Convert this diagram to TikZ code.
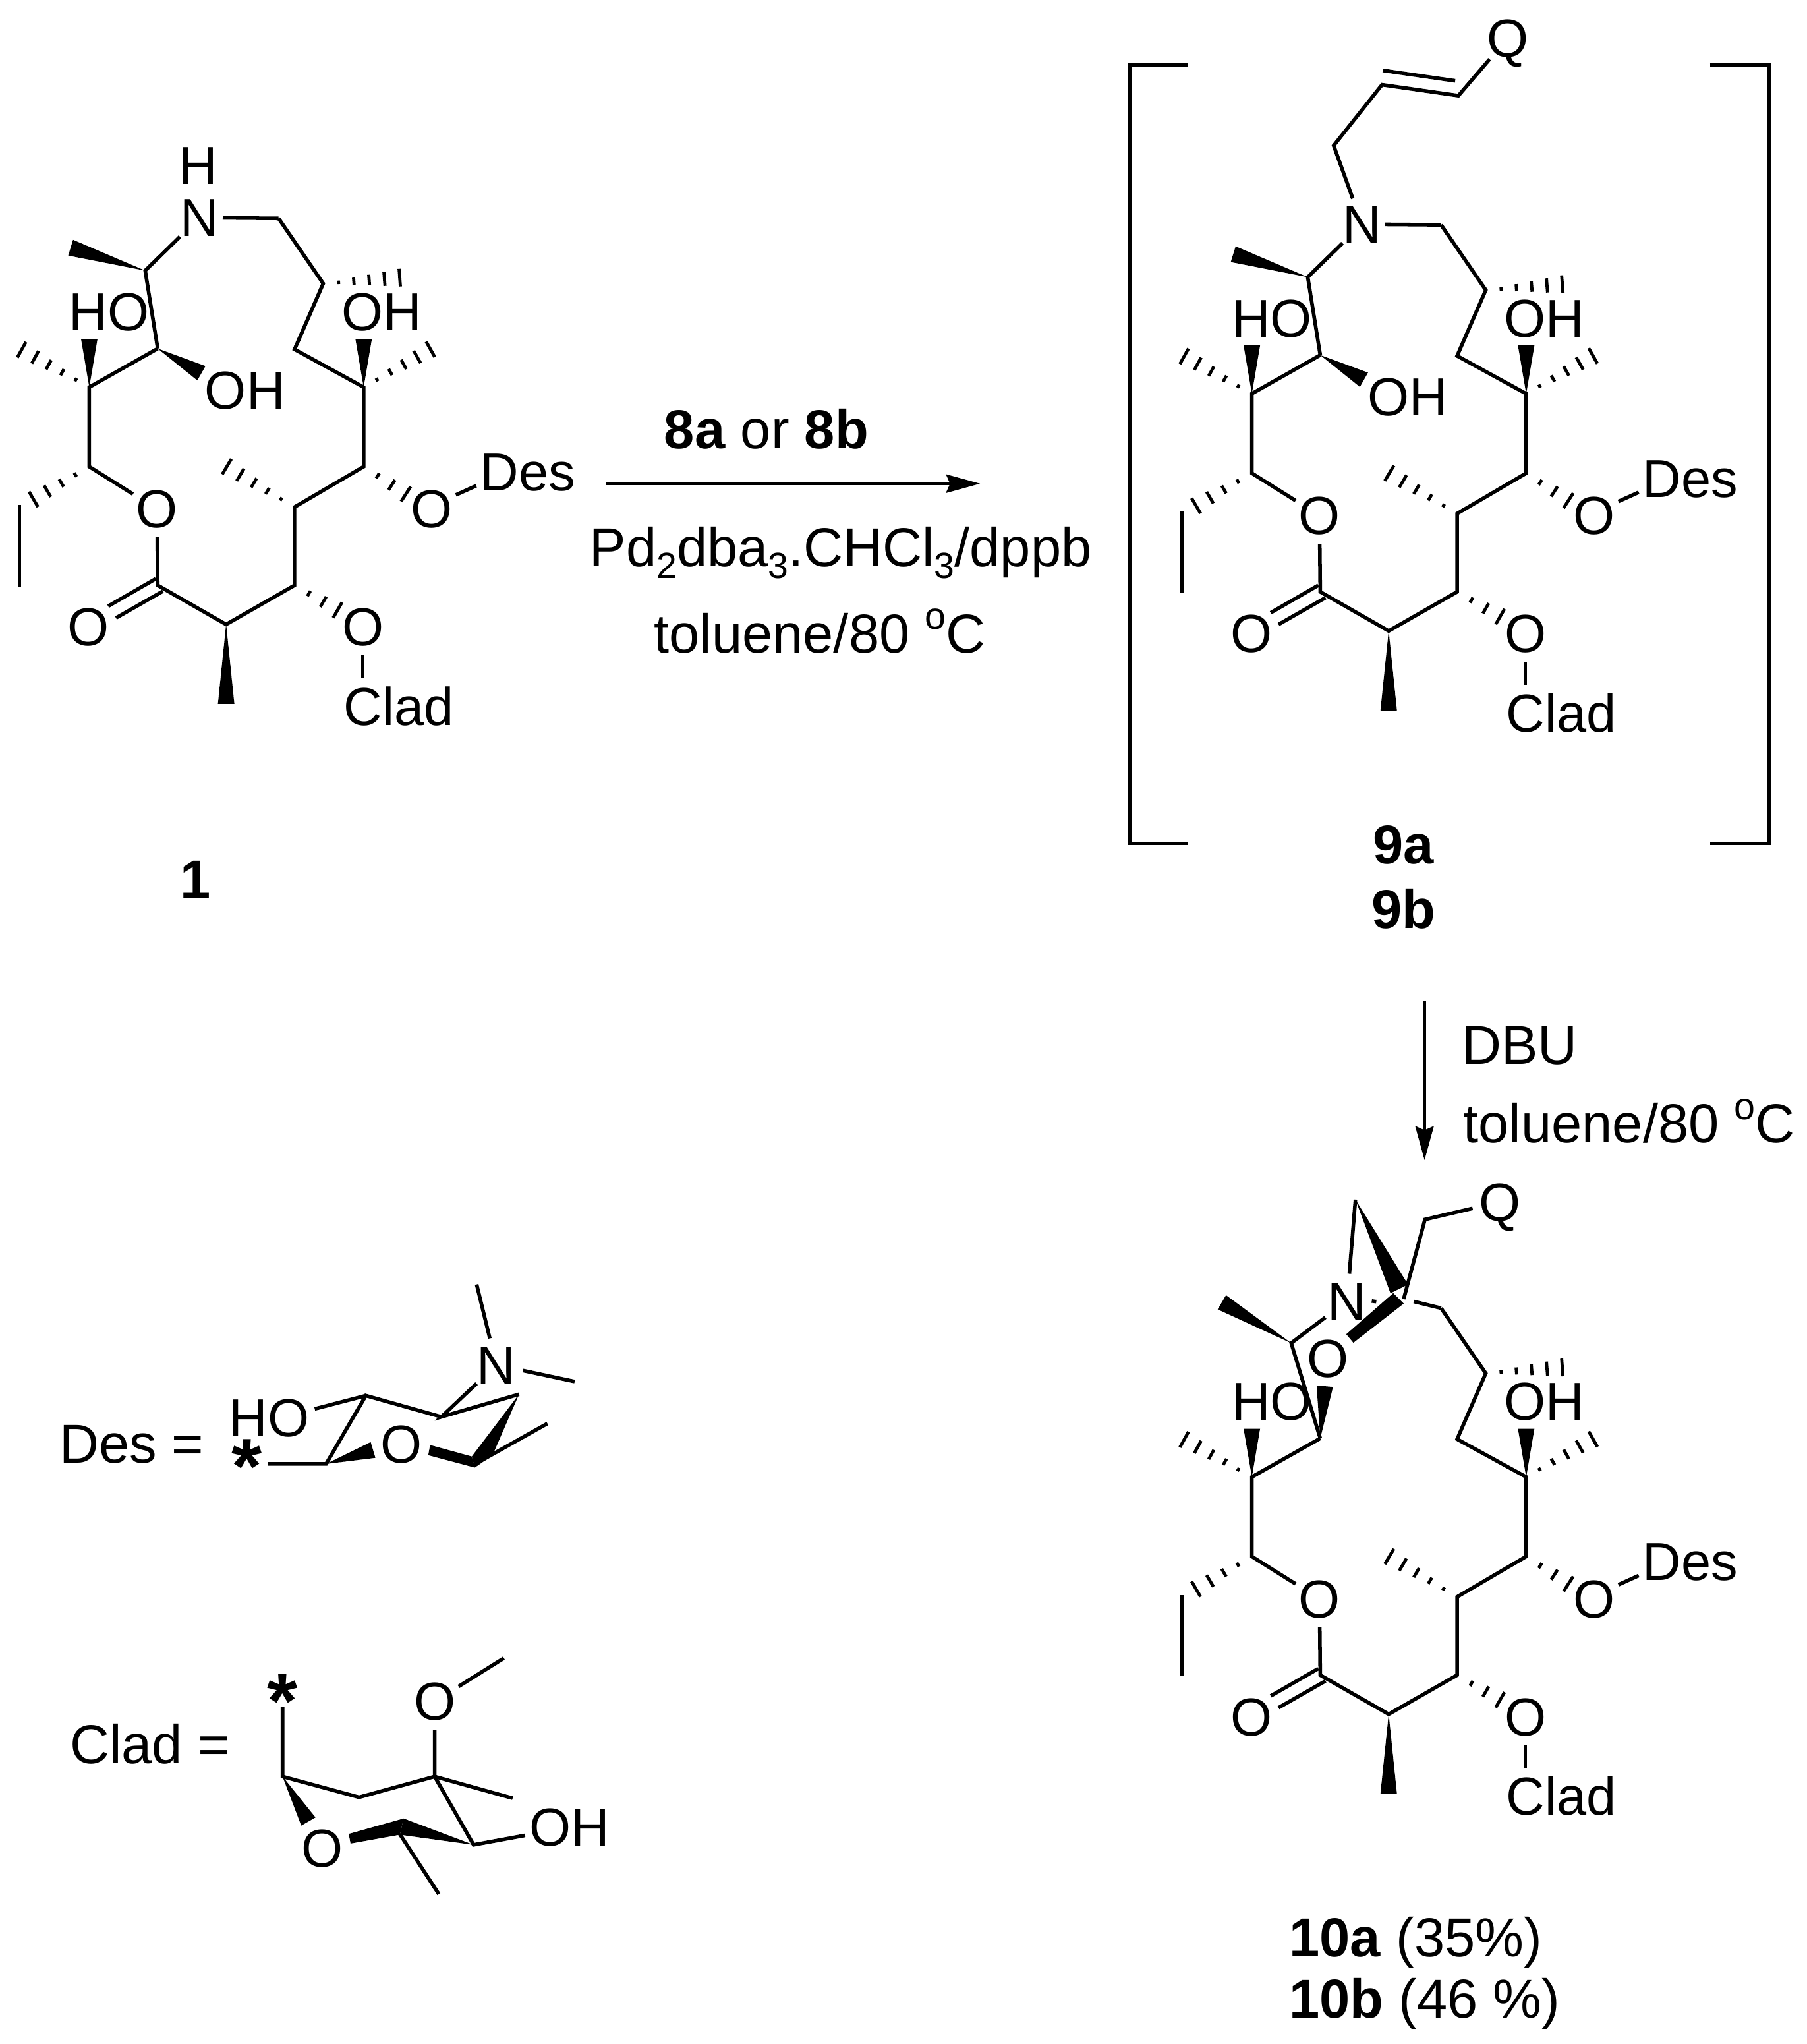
\documentclass[tikz,border=0pt]{standalone}
\usepackage{fontspec}
\setmainfont{Liberation Sans}
\usetikzlibrary{calc,arrows.meta}

\newcommand{\atomfont}{\fontsize{41}{46}\selectfont}
\newcommand{\capfont}{\fontsize{42}{47}\selectfont}
\newcommand{\subdigit}[1]{\raisebox{-9pt}{\fontsize{28}{30}\selectfont #1}}
\newcommand{\degsign}{\raisebox{18pt}{\fontsize{29}{30}\selectfont o}}

\tikzset{
    bond/.style={line width=2.8pt,line join=miter},
    hash/.style={line width=2.4pt},
    atom/.style={circle,inner sep=0pt,font=\atomfont,text height=29pt,text depth=0pt},
    label/.style={inner sep=3pt,font=\atomfont,text height=29pt,text depth=0pt},
    caption/.style={inner sep=0pt,font=\capfont},
    starmark/.style={inner sep=0pt,font=\fontsize{60}{60}\selectfont\bfseries},
    react/.style={line width=2.5pt,-{Stealth[length=26pt,width=14pt,inset=3pt]}},
}

% count, from, to
\newcommand{\hashbond}[3]{
    \foreach \k in {1,...,#1}{
        \pgfmathsetmacro{\hashpos}{\k/#1}
        \pgfmathsetmacro{\hashw}{6.8*\hashpos}
        \draw[hash] ($(#2)!\hashpos!(#3)!\hashw pt!90:(#2)$) -- ($(#2)!\hashpos!(#3)!\hashw pt!-90:(#2)$);
    }
}
% half width, tip, wide end
\newcommand{\wedgebond}[3][6.3]{
    \fill (#2) -- ($(#3)!#1pt!90:(#2)$) -- ($(#3)!#1pt!-90:(#2)$) -- cycle;
}

% ring shared by the three compounds
\newcommand{\macrolide}{
    \coordinate (c1) at (121,267.4);
    \coordinate (c2) at (68.5,297);
    \coordinate (c3) at (68.5,358);
    \coordinate (c4) at (121,449);
    \coordinate (c5) at (173.5,479);
    \coordinate (c6) at (226,449);
    \coordinate (c7) at (226,389);
    \coordinate (c8) at (279,358);
    \coordinate (c9) at (279,297);
    \coordinate (c10) at (226,268);
    \coordinate (c11) at (248,217.5);
    \coordinate (c12) at (213.7,167.5);
    \coordinate (et1) at (15,387.5);
    \coordinate (et2) at (15,450);
    \coordinate (h1) at (16.6,268.3);
    \coordinate (h2) at (25.7,383);
    \coordinate (h3) at (330.3,268);
    \coordinate (h4) at (306.7,213);
    \coordinate (h5) at (174,358);
    \coordinate (h6) at (311.4,379);
    \coordinate (h7) at (259,468);
    \coordinate (w1) at (68.5,260);
    \coordinate (w2) at (279,260);
    \coordinate (w3) at (173.5,540);
    \node[label] (ho) at (83.8,239) {HO};
    \node[label] (oh) at (293,239) {OH};
    \node[atom] (oe) at (120.4,390.5) {O};
    \node[atom] (oc) at (68,481) {O};
    \node[atom] (od) at (331,390.5) {O};
    \node[atom] (ocl) at (278.4,481) {O};
    \node[label] (des) at (405,362) {Des};
    \node[label] (clad) at (306,542) {Clad};
    \draw[bond] (c1) -- (c2) -- (c3) -- (oe);
    \draw[bond] (oe) -- (c4) -- (c5) -- (c6) -- (c7) -- (c8) -- (c9) -- (c10) -- (c11) -- (c12);
    \draw[bond] (et1) -- (et2);
    \draw[bond] ([shift={(-1.5,-5)}]c4) -- ([shift={(15,-16)}]oc.center);
    \draw[bond] ([shift={(4,4.5)}]c4) -- ([shift={(21,-7)}]oc.center);
    \draw[bond] (od.30) -- (des.195);
    \draw[bond,shorten >=4pt] (ocl) -- (clad.north -| ocl);
    \hashbond{5}{c2}{h1}
    \hashbond{4}{c3}{h2}
    \hashbond{5}{c9}{h3}
    \hashbond{5}{c11}{h4}
    \hashbond{5}{c7}{h5}
    \hashbond{3}{c8}{h6}
    \hashbond{3}{c6}{h7}
    \wedgebond{c2}{w1}
    \wedgebond{c9}{w2}
    \wedgebond{c5}{w3}
}
% amine part of 1 and 9
\newcommand{\aminotop}{
    \node[atom] (n) at (153,167) {N};
    \node[label] (oh2) at (188,299.5) {OH};
    \coordinate (c13) at (111.4,207.6);
    \coordinate (w4) at (54.2,190);
    \coordinate (w5) at (154.5,286.3);
    \draw[bond] (n) -- (c13) -- (c1);
    \draw[bond,shorten >=-3pt] (c12) -- (n);
    \wedgebond{c13}{w4}
    \wedgebond{c1}{w5}
}

\begin{document}
\begin{tikzpicture}[x=1pt,y=-1pt]
    \useasboundingbox (0,0) rectangle (1386,1568);

    % compound 1
    \begin{scope}[name prefix=A-]
        \macrolide
        \aminotop
        \node[atom] (h) at (152,127) {H};
    \end{scope}
    \node[caption] (one) at (150,675) {\bfseries 1};

    % first step
    \coordinate (r1) at (465,371);
    \coordinate (r2) at (752,371);
    \draw[react] (r1) -- (r2);
    \node[caption] (cond1) at (588,329) {\textbf{8a} or \textbf{8b}};
    \node[caption] (cond2) at (645,424) {Pd\subdigit{2}dba\subdigit{3}.CHCl\subdigit{3}/dppb};
    \node[caption] (cond3) at (629,484) {toluene/80 \degsign C};

    % compound 9
    \begin{scope}[shift={(892,5)},name prefix=B-]
        \macrolide
        \aminotop
    \end{scope}
    \coordinate (b1) at (1023.3,111.7);
    \coordinate (b2) at (1060.4,65);
    \coordinate (b3) at (1119,73.4);
    \coordinate (b4) at (1061,54);
    \coordinate (b5) at (1116.5,62);
    \node[atom] (q) at (1157,29) {Q};
    \draw[bond] (B-n) -- (b1) -- (b2) -- (b3) -- (q);
    \draw[bond] (b4) -- (b5);
    \coordinate (lb1) at (911,50);
    \coordinate (lb2) at (867,50);
    \coordinate (lb3) at (867,647);
    \coordinate (lb4) at (911,647);
    \coordinate (rb1) at (1312,50);
    \coordinate (rb2) at (1357,50);
    \coordinate (rb3) at (1357,647);
    \coordinate (rb4) at (1312,647);
    \draw[bond] (lb1) -- (lb2) -- (lb3) -- (lb4);
    \draw[bond] (rb1) -- (rb2) -- (rb3) -- (rb4);
    \node[caption] (nine1) at (1077,648) {\bfseries 9a};
    \node[caption] (nine2) at (1077,697) {\bfseries 9b};

    % second step
    \coordinate (s1) at (1093,768);
    \coordinate (s2) at (1093,890);
    \draw[react] (s1) -- (s2);
    \node[caption] (cond4) at (1166,802) {DBU};
    \node[caption] (cond5) at (1250,860) {toluene/80 \degsign C};

    % compound 10
    \begin{scope}[shift={(892,836)},name prefix=Z-]
        \macrolide
    \end{scope}
    \node[atom] (zn) at (1033.6,998) {N};
    \node[atom] (zo) at (1019,1042) {O};
    \node[atom] (zq) at (1151,922) {Q};
    \coordinate (z1) at (990.7,1030.3);
    \coordinate (z2) at (1077,996.5);
    \coordinate (z3) at (1093.3,935.5);
    \coordinate (z4) at (1040,920.2);
    \coordinate (z5) at (937.5,999);
    \coordinate (z6) at (1016.5,1063.4);
    \coordinate (z7) at (1073.6,988.7);
    \coordinate (z8) at (1052.5,998);
    \coordinate (z9) at (1056,998.5);
    \draw[bond] (Z-c1) -- (z1) -- (zn);
    \draw[bond,shorten >=8pt] (Z-c12) -- (z2);
    \draw[bond] (z2) -- (z3) -- (zq);
    \draw[bond] (z4) -- (zn);
    \draw[bond] (z8) -- (z9);
    \wedgebond{z1}{z5}
    \wedgebond{Z-c1}{z6}
    \wedgebond[7.5]{z4}{z7}
    \fill (1033,1023.5) -- (1038.4,1030) -- (1077,1000) -- (1069,992) -- cycle;
    \node[caption,anchor=west] (ten1) at (989,1490) {\textbf{10a} (35\%)};
    \node[caption,anchor=west] (ten2) at (989,1537) {\textbf{10b} (46 \%)};

    % Des
    \node[caption] (deseq) at (101,1108) {Des =};
    \node[atom] (dn) at (380.8,1047) {N};
    \node[label] (dho) at (206.7,1087.5) {HO};
    \node[atom] (do) at (308.2,1107.9) {O};
    \node[starmark] (dstar) at (189.3,1125) {*};
    \coordinate (d1) at (365.7,985.3);
    \coordinate (d2) at (440.9,1059.8);
    \coordinate (d3) at (338.7,1086.9);
    \coordinate (d4) at (398.2,1069.6);
    \coordinate (d5) at (280.7,1070.6);
    \coordinate (d6) at (250.2,1123);
    \coordinate (d7) at (205.8,1123);
    \coordinate (d8) at (286.2,1112.3);
    \coordinate (d9) at (370.6,1119.7);
    \coordinate (d10) at (420,1092);
    \coordinate (d11) at (241.5,1080.8);
    \draw[bond] (dn) -- (d1);
    \draw[bond] (dn) -- (d2);
    \draw[bond] (dn) -- (d3) -- (d4);
    \draw[bond] (d3) -- (d5) -- (d6) -- (d7);
    \draw[bond] (d5) -- (d11);
    \draw[bond] (d9) -- (d10);
    \wedgebond{d6}{d8}
    \fill (d4) -- (362,1117.3) -- (364.3,1125.8) -- (377.9,1116.3) -- cycle;
    \fill (330,1108.5) -- (362,1117.3) -- (364.3,1125.8) -- (328.6,1116.3) -- cycle;

    % Clad
    \node[caption] (cladeq) at (115,1338) {Clad =};
    \node[starmark] (cstar) at (216.8,1305) {*};
    \node[atom] (co1) at (333.5,1305.2) {O};
    \node[atom] (co2) at (247.3,1417.6) {O};
    \node[label] (coh) at (436.8,1401.7) {OH};
    \coordinate (k1) at (216.8,1309.3);
    \coordinate (k2) at (216.8,1362.8);
    \coordinate (k3) at (275.5,1378.7);
    \coordinate (k4) at (333.5,1362.8);
    \coordinate (k5) at (393.3,1379.4);
    \coordinate (k6) at (386.6,1272);
    \coordinate (k7) at (363.4,1415.2);
    \coordinate (k8) at (306.8,1407);
    \coordinate (k9) at (336.7,1453);
    \coordinate (k10) at (236.6,1397.3);
    \draw[bond] (k1) -- (k2) -- (k3) -- (k4) -- (k5);
    \draw[bond] (co1) -- (k4) -- (k7) -- (coh);
    \draw[bond] (co1) -- (k6);
    \draw[bond] (k8) -- (k9);
    \wedgebond{k2}{k10}
    \fill (k7) -- (309.7,1395) -- (306.8,1407.4) -- cycle;
    \fill (309.7,1395) -- (306.8,1407.4) -- (269,1414.2) -- (267.6,1406.8) -- cycle;
\end{tikzpicture}
\end{document}
